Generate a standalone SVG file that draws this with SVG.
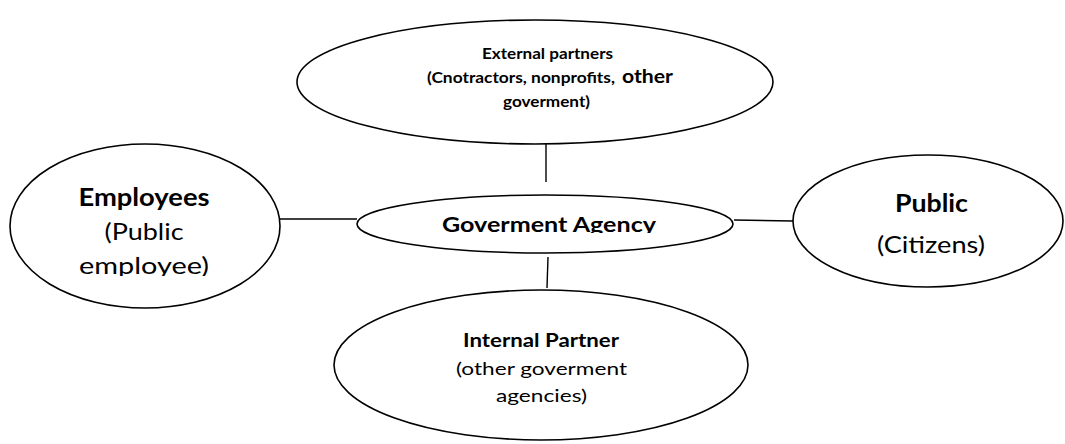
<svg xmlns="http://www.w3.org/2000/svg" width="1065" height="444" viewBox="0 0 1065 444">
  <style>
    .shape { fill: #ffffff; stroke: #000000; stroke-width: 1.6; }
    .link { stroke: #000000; stroke-width: 1.4; fill: none; }
    text { font-family: Lato, "Liberation Sans", sans-serif; fill: #000000; text-anchor: middle; }
    .b { font-weight: bold; }
    .l { text-anchor: start; }
  </style>
  <defs>
    <clipPath id="clip-employees"><rect x="0" y="140" width="300" height="136"/></clipPath>
    <clipPath id="clip-agency"><rect x="350" y="190" width="390" height="43"/></clipPath>
  </defs>

  <g id="connectors">
    <line class="link" x1="546" y1="144" x2="546" y2="182"/>
    <line class="link" x1="280" y1="219" x2="357" y2="219"/>
    <line class="link" x1="734" y1="220" x2="793" y2="221"/>
    <line class="link" x1="548" y1="257" x2="547" y2="288"/>
  </g>

  <g id="external-partners">
    <ellipse class="shape" cx="535" cy="82" rx="238" ry="62"/>
    <text class="b" x="547.5" y="59" font-size="15" textLength="131" lengthAdjust="spacingAndGlyphs">External partners</text>
    <text class="b l" x="427" y="83" font-size="15" textLength="188" lengthAdjust="spacingAndGlyphs">(Cnotractors, nonprofits,</text>
    <text class="b l" x="622" y="83" font-size="18" textLength="51" lengthAdjust="spacingAndGlyphs">other</text>
    <text class="b" x="546.5" y="107" font-size="15" textLength="87" lengthAdjust="spacingAndGlyphs">goverment)</text>
  </g>

  <g id="employees">
    <ellipse class="shape" cx="145" cy="226" rx="135" ry="82"/>
    <g clip-path="url(#clip-employees)">
      <text class="b" x="144" y="206" font-size="24" textLength="131" lengthAdjust="spacingAndGlyphs">Employees</text>
      <text x="144" y="240" font-size="24" textLength="79" lengthAdjust="spacingAndGlyphs">(Public</text>
      <text x="144" y="274" font-size="24" textLength="130" lengthAdjust="spacingAndGlyphs">employee)</text>
    </g>
  </g>

  <g id="agency">
    <ellipse class="shape" cx="545" cy="224" rx="188" ry="29"/>
    <g clip-path="url(#clip-agency)">
      <text class="b" x="549" y="232" font-size="21" textLength="214" lengthAdjust="spacingAndGlyphs">Goverment Agency</text>
    </g>
  </g>

  <g id="public">
    <ellipse class="shape" cx="928" cy="221" rx="135" ry="66"/>
    <text class="b" x="931.5" y="212" font-size="24" textLength="73" lengthAdjust="spacingAndGlyphs">Public</text>
    <text x="931" y="253" font-size="24" textLength="108" lengthAdjust="spacingAndGlyphs">(Citizens)</text>
  </g>

  <g id="internal-partner">
    <ellipse class="shape" cx="541" cy="365" rx="207" ry="75"/>
    <text class="b" x="541" y="347" font-size="18" textLength="156" lengthAdjust="spacingAndGlyphs">Internal Partner</text>
    <text x="541.5" y="375" font-size="18" textLength="171" lengthAdjust="spacingAndGlyphs">(other goverment</text>
    <text x="541.5" y="402" font-size="18" textLength="91" lengthAdjust="spacingAndGlyphs">agencies)</text>
  </g>
</svg>
